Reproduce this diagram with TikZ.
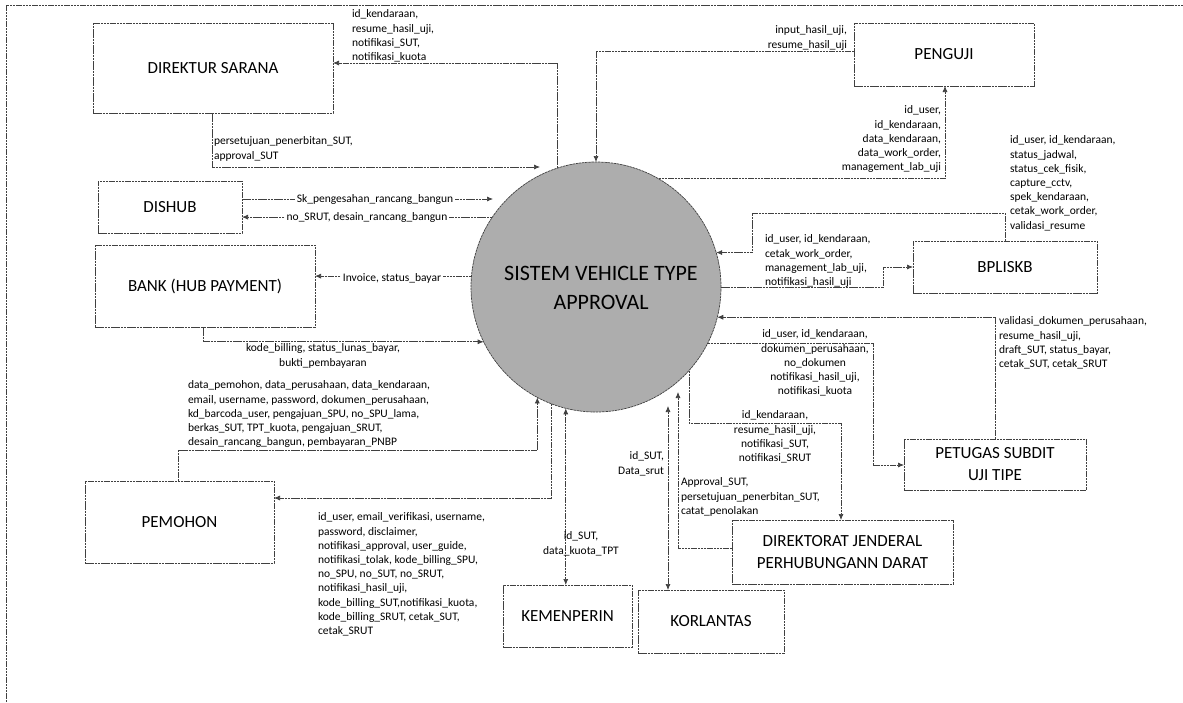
\documentclass[tikz,border=0pt]{standalone}
\usepackage{fontspec}
\setmainfont{Carlito}
\usetikzlibrary{arrows.meta}
\begin{document}
\begin{tikzpicture}[x=1pt,y=-1pt,
  every node/.style={inner sep=0pt, outer sep=0pt},
  line/.style={draw=black!75, line width=0.7pt, dash pattern=on 2.5pt off 0.7pt},
  ent/.style={line, fill=white, align=center, font=\fontsize{17}{22}\selectfont},
  flow/.style={line, -{Latex[length=6pt,width=5pt]}},
  both/.style={line, {Latex[length=6pt,width=5pt]}-{Latex[length=6pt,width=5pt]}},
  lbl/.style={font=\fontsize{11.5}{14.2}\selectfont},
  lblL/.style={lbl, align=left, anchor=north west},
  lblR/.style={lbl, align=right, anchor=north east},
  lblC/.style={lbl, align=center, anchor=north},
  onln/.style={lbl, fill=white, inner xsep=2pt, inner ysep=1pt}
]
\useasboundingbox (0,0) rectangle (1183,702);

% page frame
\draw[line] (6,702) -- (6,5) -- (1183,5);

% central process
\node[circle, line, fill=black!32, minimum size=250pt] (sys) at (596,287) {};
\node[align=center, font=\fontsize{22}{29}\selectfont] (systxt) at (601,288)
  {SISTEM VEHICLE TYPE\\APPROVAL};

% external entities
\node[ent, minimum width=240pt, minimum height=90pt] (dir)    at (213,68)    {DIREKTUR SARANA};
\node[ent, minimum width=180pt, minimum height=63pt] (peng)   at (944,54.5)  {PENGUJI};
\node[ent, minimum width=144pt, minimum height=52pt] (dishub) at (170,207)   {DISHUB};
\node[ent, minimum width=220pt, minimum height=82pt] (bank)   at (205,286)   {BANK (HUB PAYMENT)};
\node[ent, minimum width=184pt, minimum height=52pt] (bpl)    at (1005,267)  {BPLISKB};
\node[ent, minimum width=182pt, minimum height=51pt] (pet)    at (995,464.5) {PETUGAS SUBDIT\\UJI TIPE};
\node[ent, minimum width=189pt, minimum height=82pt] (pem)    at (179.5,522) {PEMOHON};
\node[ent, minimum width=221pt, minimum height=64pt] (dirjen) at (842.5,552)  {DIREKTORAT JENDERAL\\PERHUBUNGANN DARAT};
\node[ent, minimum width=129pt, minimum height=62pt] (kem)    at (567.5,616) {KEMENPERIN};
\node[ent, minimum width=146pt, minimum height=63pt] (kor)    at (711,621.5) {KORLANTAS};

% free ends that stop short of the circle
\coordinate (dirEnd) at (540,167);
\coordinate (dishubEnd) at (493,199);
\coordinate (korEnd) at (668,406);
\coordinate (djEnd) at (678,392);

% DIREKTUR SARANA
\draw[flow] (sys.108.7) |- (dir.east |- 0,63);
\node[lblL] (l1) at (352,10) {id\_kendaraan,\\resume\_hasil\_uji,\\notifikasi\_SUT,\\notifikasi\_kuota};
\draw[flow] (dir.south -| 212,0) |- (dirEnd);
\node[lblL] (l2) at (214,137) {persetujuan\_penerbitan\_SUT,\\approval\_SUT};

% PENGUJI
\draw[flow] (peng.west |- 0,51) -| (sys.north);
\node[lblR] (l3) at (847,26) {input\_hasil\_uji,\\resume\_hasil\_uji};
\draw[flow] (sys.60.8) -| (peng.south -| 945,0);
\node[lblR] (l4) at (941,106) {id\_user,\\id\_kendaraan,\\data\_kendaraan,\\data\_work\_order,\\management\_lab\_uji};

% DISHUB
\draw[flow] (dishub.east |- 0,199) -- (dishubEnd);
\node[onln] (l5) at (375,199) {Sk\_pengesahan\_rancang\_bangun};
\draw[flow] (sys.146.1) -- (dishub.east |- sys.146.1);
\node[onln] (l6) at (367,217) {no\_SRUT, desain\_rancang\_bangun};

% BANK
\draw[flow] (sys.175.9) -- (bank.east |- sys.175.9);
\node[onln] (l7) at (392,278) {Invoice, status\_bayar};
\draw[flow] (bank.south -| 203,0) |- (sys.206.2);
\node[lblC] (l8) at (323,344) {kode\_billing, status\_lunas\_bayar,\\bukti\_pembayaran};

% PEMOHON
\draw[flow] (pem.north -| 178,0) -- (178,450) -| (sys.242.4);
\node[lblL] (l9) at (188,381) {data\_pemohon, data\_perusahaan, data\_kendaraan,\\email, username, password, dokumen\_perusahaan,\\kd\_barcoda\_user, pengajuan\_SPU, no\_SPU\_lama,\\berkas\_SUT, TPT\_kuota, pengajuan\_SRUT,\\desain\_rancang\_bangun, pembayaran\_PNBP};
\draw[flow] (sys.249.9) |- (pem.east |- 0,498);
\node[lblL] (l10) at (318,513) {id\_user, email\_verifikasi, username,\\password, disclaimer,\\notifikasi\_approval, user\_guide,\\notifikasi\_tolak, kode\_billing\_SPU,\\no\_SPU, no\_SUT, no\_SRUT,\\notifikasi\_hasil\_uji,\\kode\_billing\_SUT,notifikasi\_kuota,\\kode\_billing\_SRUT, cetak\_SUT,\\cetak\_SRUT};

% KEMENPERIN and KORLANTAS
\draw[both] (sys.256.6) -- (kem.north -| sys.256.6);
\node[lblC] (l11) at (581,532) {id\_SUT,\\data\_kuota\_TPT};
\draw[both] (korEnd) -- (kor.north -| korEnd);
\node[lblR] (l12) at (664,452) {id\_SUT,\\Data\_srut};

% DIREKTORAT JENDERAL
\draw[flow] (dirjen.west |- 0,548) -| (djEnd);
\node[lblL] (l13) at (681,478) {Approval\_SUT,\\persetujuan\_penerbitan\_SUT,\\catat\_penolakan};
\draw[flow] (sys.318.1) |- (841,423) -- (dirjen.north -| 841,0);
\node[lblC] (l14) at (775,411) {id\_kendaraan,\\resume\_hasil\_uji,\\notifikasi\_SUT,\\notifikasi\_SRUT};

% PETUGAS SUBDIT UJI TIPE
\draw[flow] (sys.333.4) -| (873,465) -- (pet.west |- 0,465);
\node[lblC] (l15) at (815,330) {id\_user, id\_kendaraan,\\dokumen\_perusahaan,\\no\_dokumen\\notifikasi\_hasil\_uji,\\notifikasi\_kuota};
\draw[flow] (pet.north) |- (sys.346.1);
\node[lblL] (l16) at (999,317) {validasi\_dokumen\_perusahaan,\\resume\_hasil\_uji,\\draft\_SUT, status\_bayar,\\cetak\_SUT, cetak\_SRUT};

% BPLISKB
\draw[flow] (bpl.north) |- (752,213) |- (sys.16.7);
\node[lblL] (l17) at (1010,136) {id\_user, id\_kendaraan,\\status\_jadwal,\\status\_cek\_fisik,\\capture\_cctv,\\spek\_kendaraan,\\cetak\_work\_order,\\validasi\_resume};
\draw[flow] (sys.0) -| (883,267) -- (bpl.west |- 0,267);
\node[lblL] (l18) at (765,235) {id\_user, id\_kendaraan,\\cetak\_work\_order,\\management\_lab\_uji,\\notifikasi\_hasil\_uji};
\end{tikzpicture}
\end{document}
